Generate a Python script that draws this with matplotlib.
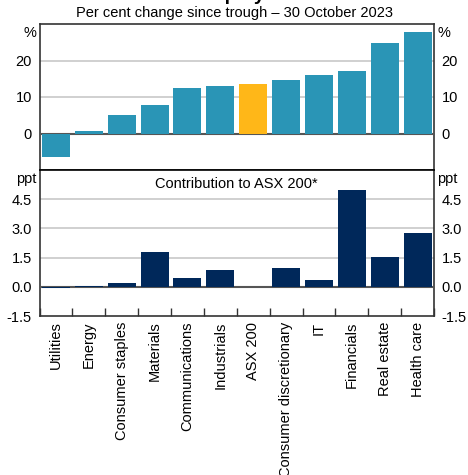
import matplotlib
matplotlib.use("Agg")
import matplotlib.pyplot as plt
import numpy as np

plt.rcParams['font.family'] = ['Liberation Sans', 'DejaVu Sans']

categories = ["Utilities", "Energy", "Consumer staples", "Materials", "Communications",
              "Industrials", "ASX 200", "Consumer discretionary", "IT", "Financials",
              "Real estate", "Health care"]
pct_change = [-6.5, 0.8, 5.0, 7.7, 12.4, 12.9, 13.5, 14.6, 16.0, 17.1, 24.8, 27.8]
contribution = [-0.08, 0.05, 0.2, 1.81, 0.47, 0.88, np.nan, 0.98, 0.36, 4.97, 1.55, 2.74]

top_ticks = [0, 10, 20]
bot_ticks = [-1.5, 0.0, 1.5, 3.0, 4.5]
bot_ticklabels = ["-1.5", "0.0", "1.5", "3.0", "4.5"]

TEAL = "#2a95b6"
GOLD = "#ffb718"
NAVY = "#00285a"
GRID = "#c8c8c8"
ZERO = "#555555"
SPINE = "#333333"

W, H = 468, 475
fig = plt.figure(figsize=(W / 100, H / 100), dpi=100)

def box(l, t, r, b):
    return [l / W, 1 - b / H, (r - l) / W, (b - t) / H]

ax1 = fig.add_axes(box(39.5, 24, 434, 170))
ax2 = fig.add_axes(box(39.5, 170, 434, 316))

x = np.arange(len(categories))
colors = [GOLD if c == "ASX 200" else TEAL for c in categories]
ax1.bar(x, pct_change, width=0.85, color=colors, zorder=4)
ax2.bar(x, contribution, width=0.85, color=NAVY, zorder=4)

ax1.set_ylim(-10, 30)
ax2.set_ylim(-1.5, 6.0)

for ax in (ax1, ax2):
    ax.set_xlim(-0.5, len(categories) - 0.5)
    for s in ax.spines.values():
        s.set_color(SPINE)
        s.set_linewidth(1.2)
    ax.tick_params(axis='y', left=False, right=False, labelleft=True, labelright=True,
                   labelsize=10.5, pad=2, colors='black')
    ax.axhline(0, color=ZERO, lw=1.5, zorder=3)

ax1.set_yticks(top_ticks)
for t in [10, 20]:
    ax1.axhline(t, color=GRID, lw=1.2, zorder=1)
ax1.set_xticks([])

ax2.set_yticks(bot_ticks)
ax2.set_yticklabels(bot_ticklabels)
for t in [1.5, 3.0, 4.5]:
    ax2.axhline(t, color=GRID, lw=1.2, zorder=1)
ax2.set_xticks(np.arange(len(categories) + 1) - 0.5, minor=True)
ax2.set_xticks(x)
ax2.set_xticklabels(categories, rotation=90, fontsize=10.5, va='top')
ax2.tick_params(axis='x', which='major', length=0, pad=4)
ax2.tick_params(axis='x', which='minor', direction='in', length=6, color=SPINE, width=1)
ax2.spines['top'].set_color('black')

# unit labels
for ax, u in ((ax1, "%"), (ax2, "ppt")):
    ax.text(-0.008, 0.985, u, transform=ax.transAxes, ha='right', va='top', fontsize=10.5)
    ax.text(1.008, 0.985, u, transform=ax.transAxes, ha='left', va='top', fontsize=10.5)

ax2.text(0.5, 0.95, "Contribution to ASX 200*", transform=ax2.transAxes, ha='center',
         va='top', fontsize=10.5)

fig.text(234 / W, 1 - 17 / H, "Per cent change since trough \u2013 30 October 2023",
         ha='center', va='baseline', fontsize=10.5)
fig.text(234 / W, 1 + 0.5 / H, "Sector Equity Prices", ha='center', va='baseline',
         fontsize=14, fontweight='bold')

fig.savefig("out.png", dpi=100)
